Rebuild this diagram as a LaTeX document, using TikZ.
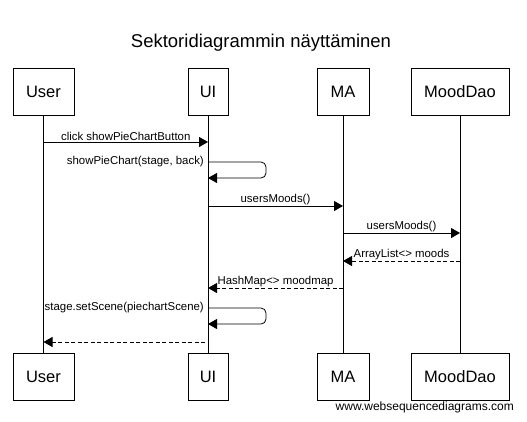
\documentclass[tikz,border=0pt]{standalone}
\usepackage{fontspec}
\setmainfont{Liberation Sans}
\usetikzlibrary{arrows.meta}
\begin{document}
\begin{tikzpicture}[x=1pt,y=-1pt,
  actor/.style={draw, line width=0.8pt, minimum height=47pt, font=\fontsize{16.5}{16.5}\selectfont, inner sep=0pt, fill=white},
  life/.style={line width=0.8pt},
  msg/.style={line width=0.8pt, -{Triangle[length=9pt,width=10pt]}},
  ret/.style={msg, dash pattern=on 4pt off 2.5pt},
  lbl/.style={font=\fontsize{11.4}{13}\selectfont, inner sep=1pt}]
\useasboundingbox[fill=white] (0,0) rectangle (527,421);
\node[font=\fontsize{18.5}{18.5}\selectfont] (title) at (261,43) {Sektoridiagrammin näyttäminen};
% top boxes
\node[actor, minimum width=61pt] (userT) at (43.5,91.5) {User};
\node[actor, minimum width=40pt] (uiT) at (208,91.5) {UI};
\node[actor, minimum width=52pt] (maT) at (343,91.5) {MA};
\node[actor, minimum width=98pt] (daoT) at (460,91.5) {MoodDao};
% bottom boxes
\node[actor, minimum width=61pt] (userB) at (43.5,376.5) {User};
\node[actor, minimum width=40pt] (uiB) at (208,376.5) {UI};
\node[actor, minimum width=52pt] (maB) at (343,376.5) {MA};
\node[actor, minimum width=98pt] (daoB) at (460,376.5) {MoodDao};
% lifelines
\draw[life] (userT) -- (userB);
\draw[life] (uiT) -- (uiB);
\draw[life] (maT) -- (maB);
\draw[life] (daoT) -- (daoB);
% messages
\draw[msg] (userT |- 0,142) -- node[lbl, above, name=m1] {click showPieChartButton} (uiT |- 0,142);
\draw[msg, rounded corners=5pt] (uiT |- 0,162) -- (266,162) -- (266,178) -- (uiT |- 0,178);
\node[lbl, anchor=east, name=m2] at (205,162) {showPieChart(stage, back)};
\draw[msg] (uiT |- 0,206) -- node[lbl, above, name=m3] {usersMoods()} (maT |- 0,206);
\draw[msg] (maT |- 0,233) -- node[lbl, above, name=m4] {usersMoods()} (daoT |- 0,233);
\draw[ret] (daoT |- 0,261) -- node[lbl, above, name=m5] {ArrayList<> moods} (maT |- 0,261);
\draw[ret] (maT |- 0,288) -- node[lbl, above, name=m6] {HashMap<> moodmap} (uiT |- 0,288);
\draw[msg, rounded corners=5pt] (uiT |- 0,308) -- (266,308) -- (266,324) -- (uiT |- 0,324);
\node[lbl, anchor=east, name=m7] at (205,308) {stage.setScene(piechartScene)};
\draw[ret] ([xshift=-3pt]uiT |- 0,342) -- (userT |- 0,342);
\node[lbl, anchor=east, font=\fontsize{12}{13}\selectfont] (footer) at (515,407) {www.websequencediagrams.com};
\end{tikzpicture}
\end{document}
